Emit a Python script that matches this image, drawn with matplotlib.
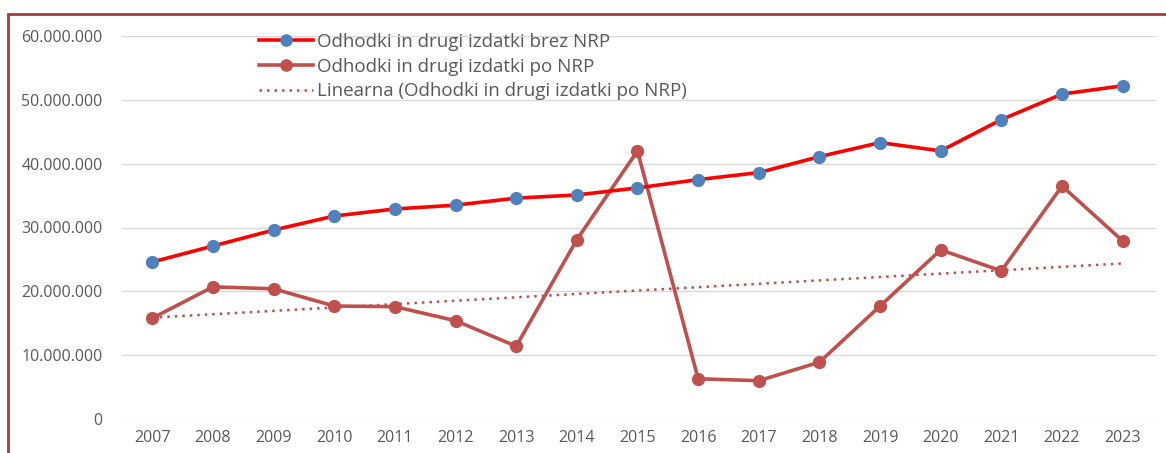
import matplotlib
matplotlib.use("Agg")
import matplotlib.pyplot as plt
import numpy as np
from matplotlib.patches import Rectangle
from matplotlib.ticker import FuncFormatter

years = list(range(2007, 2024))
brez_nrp = [24.6, 27.1, 29.6, 31.8, 32.9, 33.5, 34.6, 35.1, 36.2, 37.5, 38.6, 41.1, 43.3, 42.0, 46.9, 50.9, 52.2]
po_nrp = [15.8, 20.7, 20.4, 17.7, 17.6, 15.4, 11.4, 28.1, 42.0, 6.3, 6.0, 8.9, 17.7, 26.5, 23.2, 36.5, 27.9]
labels = ["Odhodki in drugi izdatki brez NRP",
          "Odhodki in drugi izdatki po NRP",
          "Linearna (Odhodki in drugi izdatki po NRP)"]

plt.rcParams['font.family'] = ['Open Sans', 'DejaVu Sans']

fig = plt.figure(figsize=(11.66, 4.53), dpi=100)
ax = fig.add_axes([122/1166, 1-419/453, (1156-122)/1166, (419-36)/453])

x = np.array(years)
y1 = np.array(brez_nrp) * 1e6
y2 = np.array(po_nrp) * 1e6

ax.plot(x, y1, color='#ff0000', lw=2.6, marker='o', ms=8.5, mfc='#4f81bd', mec='#4f81bd',
        label=labels[0], zorder=4)
ax.plot(x, y2, color='#c0504d', lw=2.6, marker='o', ms=8.5, mfc='#c0504d', mec='#c0504d',
        label=labels[1], zorder=3)
coef = np.polyfit(x, y2, 1)
ax.plot(x, np.polyval(coef, x), color='#c0504d', lw=1.8, ls=(0, (1, 2)),
        label=labels[2], zorder=2)

ax.set_xlim(2006.5, 2023.55)
ax.set_ylim(0, 60e6)
ax.set_yticks(np.arange(0, 60e6 + 1, 10e6))
ax.set_xticks(years)
ax.yaxis.set_major_formatter(FuncFormatter(lambda v, p: f"{int(v):,}".replace(",", ".")))
ax.grid(axis='y', color='#d9d9d9', lw=1)
ax.set_axisbelow(True)
for s in ax.spines.values():
    s.set_visible(False)
ax.tick_params(length=0, labelsize=11.5, colors='#595959', pad=14)
ax.tick_params(axis='x', pad=8)

leg = ax.legend(loc='upper left', bbox_to_anchor=(0.125, 1.028), frameon=False,
                fontsize=13.5, handlelength=2.9, labelspacing=0.36, handletextpad=0.2,
                borderaxespad=0, markerscale=0.95)
for t in leg.get_texts():
    t.set_color('#595959')

fig.patches.append(Rectangle((8/1166, -0.1), 1.2, 1 - 14/453 + 0.1, transform=fig.transFigure,
                             fill=False, edgecolor='#a0403c', lw=2, clip_on=False))

fig.savefig("out.png", dpi=100)
